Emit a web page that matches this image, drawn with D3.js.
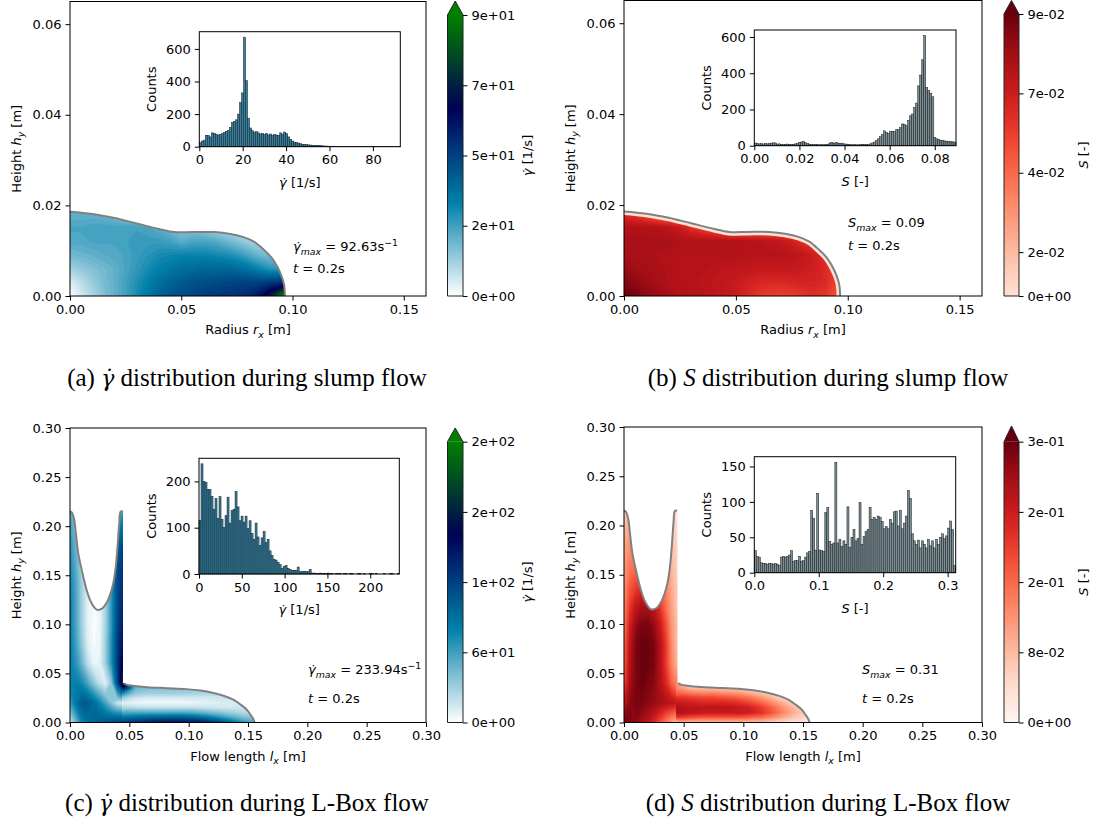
<!DOCTYPE html>
<html>
<head>
<meta charset="utf-8">
<script src="https://cdn.jsdelivr.net/npm/d3@7"></script>
<style>
  body { margin: 0; background: #fff; }
</style>
</head>
<body>
<svg width="1098" height="825"></svg>
<script>
const FONT = "DejaVu Sans";
const SERIF = "Liberation Serif";

// ---------- free surfaces (m) ----------
var slump_surf_x = [0, 0.010, 0.020, 0.030, 0.040, 0.047, 0.055, 0.065, 0.072, 0.078, 0.083, 0.0873, 0.0905, 0.093, 0.0950, 0.0962, 0.0966];
var slump_surf_y = [0.0186, 0.0181, 0.0172, 0.0160, 0.0148, 0.0141, 0.0141, 0.0141, 0.0137, 0.0130, 0.0119, 0.0101, 0.0085, 0.0066, 0.0045, 0.0025, 0.0];

var lbox_col_surf_x = [0.0, 0.0015, 0.0035, 0.0050, 0.0070, 0.0098, 0.0140, 0.0180, 0.0225, 0.0270, 0.0309, 0.0340, 0.0365, 0.0385, 0.0400, 0.0415, 0.0427, 0.0445];
var lbox_col_surf_y = [0.215, 0.214, 0.207, 0.192, 0.172, 0.156, 0.135, 0.122, 0.115, 0.116, 0.122, 0.131, 0.142, 0.158, 0.178, 0.203, 0.215, 0.215];
var lbox_gate_y = 0.040;
var lbox_layer_surf_x = [0.0455, 0.048, 0.053, 0.065, 0.082, 0.098, 0.110, 0.121, 0.130, 0.138, 0.144, 0.149, 0.152, 0.154, 0.1556];
var lbox_layer_surf_y = [0.040, 0.0384, 0.0374, 0.036, 0.035, 0.034, 0.0325, 0.030, 0.027, 0.023, 0.018, 0.013, 0.008, 0.0045, 0.0];

// ---------- fields: rows from y = 0 upwards ----------
// slump grid: x = 0..0.10 step 0.005, y = 0..0.018 step 0.003
var slump_grid_dx = 0.005, slump_grid_dy = 0.003;
var slump_shear = [
  [0, 5, 10, 15, 19, 23, 28, 33, 38, 41, 43, 45, 47, 48, 49, 50, 52, 58, 70, 92, 92],
  [4, 8, 12, 16, 19, 23, 27, 31, 35, 38, 40, 42, 43, 44, 45, 46, 46, 46, 48, 50, 50],
  [11, 13, 15, 17, 19, 22, 25, 28, 31, 33, 35, 36, 37, 37, 37, 36, 34, 30, 26, 25, 25],
  [17, 18, 19, 20, 21, 22, 24, 26, 28, 29, 30, 30, 30, 29, 28, 26, 22, 18, 16, 16, 16],
  [21, 21, 22, 22, 22, 23, 24, 24, 24, 23, 20, 22, 22, 21, 18, 15, 12, 10, 10, 10, 10],
  [22, 22, 23, 23, 23, 23, 23, 22, 20, 17, 14, 14, 13, 11, 9, 8, 8, 8, 8, 8, 8],
  [19, 19, 19, 18, 16, 14, 12, 10, 9, 7, 6, 6, 6, 6, 6, 6, 6, 6, 6, 6, 6]
];
var slump_s = [
  [0.089, 0.086, 0.082, 0.079, 0.077, 0.075, 0.074, 0.073, 0.072, 0.070, 0.067, 0.062, 0.058, 0.056, 0.055, 0.056, 0.058, 0.060, 0.058, 0.050, 0.045],
  [0.085, 0.082, 0.079, 0.077, 0.075, 0.074, 0.073, 0.072, 0.071, 0.070, 0.068, 0.065, 0.063, 0.062, 0.062, 0.063, 0.064, 0.064, 0.062, 0.055, 0.050],
  [0.080, 0.078, 0.077, 0.076, 0.075, 0.074, 0.073, 0.073, 0.072, 0.071, 0.071, 0.070, 0.069, 0.069, 0.069, 0.069, 0.068, 0.066, 0.062, 0.055, 0.050],
  [0.077, 0.076, 0.076, 0.075, 0.075, 0.074, 0.074, 0.074, 0.074, 0.074, 0.074, 0.073, 0.073, 0.073, 0.073, 0.072, 0.070, 0.066, 0.060, 0.055, 0.050],
  [0.076, 0.076, 0.076, 0.076, 0.076, 0.075, 0.075, 0.075, 0.075, 0.075, 0.075, 0.074, 0.073, 0.072, 0.070, 0.066, 0.060, 0.055, 0.050, 0.050, 0.050],
  [0.075, 0.075, 0.075, 0.074, 0.072, 0.068, 0.060, 0.055, 0.050, 0.045, 0.040, 0.040, 0.040, 0.040, 0.040, 0.040, 0.040, 0.040, 0.040, 0.040, 0.040],
  [0.060, 0.058, 0.050, 0.045, 0.040, 0.040, 0.040, 0.040, 0.040, 0.040, 0.040, 0.040, 0.040, 0.040, 0.040, 0.040, 0.040, 0.040, 0.040, 0.040, 0.040]
];

// L-box vertical column grid: x = 0..0.045 step 0.005, y = 0..0.22 step 0.02
var col_grid_dx = 0.005, col_grid_dy = 0.02;
var lbox_col_shear = [
  [10, 45, 75, 90, 95, 100, 105, 110, 115, 120],
  [60, 85, 100, 100, 90, 75, 55, 35, 15, 10],
  [75, 78, 72, 55, 35, 18, 10, 35, 110, 200],
  [78, 65, 45, 20, 6, 8, 30, 68, 120, 170],
  [78, 58, 32, 10, 3, 6, 30, 68, 120, 150],
  [76, 55, 28, 8, 2, 5, 28, 65, 115, 140],
  [76, 55, 28, 8, 3, 5, 28, 65, 112, 135],
  [74, 54, 28, 9, 4, 7, 30, 66, 112, 130],
  [70, 50, 27, 10, 5, 9, 30, 66, 110, 125],
  [65, 46, 25, 12, 7, 12, 30, 62, 100, 115],
  [58, 40, 22, 12, 7, 12, 26, 48, 75, 85],
  [48, 32, 18, 10, 6, 10, 18, 32, 45, 50]
];
var lbox_col_s = [
  [0.31, 0.30, 0.29, 0.27, 0.25, 0.22, 0.18, 0.14, 0.10, 0.08],
  [0.24, 0.29, 0.30, 0.30, 0.29, 0.28, 0.27, 0.26, 0.25, 0.24],
  [0.18, 0.27, 0.30, 0.31, 0.30, 0.29, 0.26, 0.22, 0.16, 0.12],
  [0.16, 0.26, 0.30, 0.31, 0.31, 0.30, 0.26, 0.20, 0.13, 0.08],
  [0.15, 0.25, 0.30, 0.31, 0.31, 0.30, 0.26, 0.20, 0.12, 0.07],
  [0.14, 0.23, 0.28, 0.30, 0.30, 0.28, 0.24, 0.18, 0.11, 0.07],
  [0.13, 0.20, 0.24, 0.26, 0.26, 0.24, 0.20, 0.15, 0.10, 0.06],
  [0.12, 0.17, 0.19, 0.20, 0.20, 0.19, 0.17, 0.13, 0.09, 0.06],
  [0.11, 0.14, 0.15, 0.15, 0.15, 0.15, 0.14, 0.12, 0.08, 0.05],
  [0.10, 0.12, 0.12, 0.12, 0.12, 0.12, 0.12, 0.10, 0.07, 0.05],
  [0.08, 0.09, 0.09, 0.09, 0.09, 0.09, 0.09, 0.08, 0.06, 0.04],
  [0.05, 0.05, 0.05, 0.05, 0.05, 0.05, 0.05, 0.05, 0.04, 0.03]
];

// L-box horizontal layer grid: x = 0.045..0.165 step 0.01, y = 0..0.04 step 0.005
var layer_grid_x0 = 0.045, layer_grid_dx = 0.01, layer_grid_dy = 0.005;
var lbox_layer_shear = [
  [120, 130, 140, 145, 148, 148, 145, 135, 120, 95, 70, 55, 55],
  [85, 90, 95, 98, 100, 100, 95, 85, 70, 55, 42, 35, 35],
  [55, 55, 55, 55, 55, 55, 52, 45, 38, 30, 25, 20, 20],
  [25, 22, 20, 20, 20, 20, 19, 17, 15, 15, 15, 15, 15],
  [10, 6, 5, 5, 5, 5, 6, 8, 10, 12, 12, 12, 12],
  [30, 15, 12, 12, 12, 12, 13, 14, 16, 16, 16, 16, 16],
  [70, 35, 30, 30, 30, 30, 28, 25, 22, 20, 20, 20, 20],
  [140, 45, 38, 36, 36, 36, 34, 30, 26, 24, 24, 24, 24],
  [200, 50, 40, 38, 38, 38, 36, 32, 28, 26, 26, 26, 26]
];
var lbox_layer_s = [
  [0.08, 0.07, 0.07, 0.07, 0.07, 0.07, 0.06, 0.06, 0.05, 0.04, 0.03, 0.02, 0.02],
  [0.20, 0.18, 0.17, 0.17, 0.17, 0.17, 0.16, 0.15, 0.12, 0.09, 0.06, 0.04, 0.04],
  [0.26, 0.25, 0.24, 0.24, 0.24, 0.24, 0.23, 0.21, 0.17, 0.12, 0.08, 0.05, 0.05],
  [0.26, 0.25, 0.25, 0.25, 0.25, 0.24, 0.23, 0.20, 0.16, 0.11, 0.07, 0.05, 0.05],
  [0.24, 0.23, 0.22, 0.22, 0.22, 0.21, 0.19, 0.16, 0.12, 0.08, 0.05, 0.04, 0.04],
  [0.21, 0.20, 0.19, 0.19, 0.18, 0.17, 0.15, 0.12, 0.08, 0.05, 0.04, 0.03, 0.03],
  [0.16, 0.14, 0.13, 0.13, 0.12, 0.11, 0.09, 0.07, 0.05, 0.04, 0.03, 0.03, 0.03],
  [0.12, 0.08, 0.07, 0.07, 0.06, 0.06, 0.05, 0.04, 0.03, 0.03, 0.03, 0.03, 0.03],
  [0.12, 0.05, 0.05, 0.05, 0.04, 0.04, 0.04, 0.03, 0.03, 0.03, 0.03, 0.03, 0.03]
];

// ---------- maxima ----------
var slump_shear_max = 92.63, slump_s_max = 0.0894;
var lbox_shear_max = 233.94, lbox_s_max = 0.3125;
var slump_s_bar_min = 0.01;

// ---------- histogram counts (100 bins from 0 to the maximum) ----------
var hist_slump_shear = [25, 35, 40, 70, 68, 60, 85, 82, 75, 72,
  76, 80, 88, 95, 100, 118, 150, 155, 165, 200,
  270, 330, 672, 405, 175, 115, 98, 88, 92, 85,
  78, 82, 75, 80, 72, 78, 70, 75, 72, 70,
  85, 78, 90, 80, 60, 45, 35, 28, 25, 22,
  18, 15, 14, 12, 11, 10, 9, 8, 7, 7,
  6, 5, 4, 4, 3, 3, 3, 3, 2, 2,
  2, 2, 2, 2, 1, 1, 1, 1, 1, 1,
  1, 1, 1, 1, 1, 1, 1, 1, 1, 1,
  1, 1, 1, 1, 1, 1, 1, 1, 1, 1];
var hist_slump_s = [15, 12, 10, 11, 9, 13, 10, 12, 14, 16,
  15, 9, 10, 8, 7, 8, 9, 8, 7, 8,
  10, 12, 18, 20, 24, 16, 12, 8, 7, 6,
  7, 6, 5, 6, 5, 7, 8, 15, 18, 14,
  17, 15, 12, 14, 10, 9, 8, 6, 5, 6,
  5, 5, 6, 8, 7, 8, 7, 10, 15, 20,
  28, 38, 50, 62, 82, 72, 68, 78, 80, 78,
  88, 90, 100, 120, 118, 110, 140, 165, 175, 210,
  235, 330, 390, 474, 608, 320, 305, 290, 270, 45,
  38, 34, 30, 28, 26, 25, 23, 22, 21, 20];
var hist_lbox_shear = [116, 238, 200, 198, 183, 182, 168, 140, 163, 120,
  167, 118, 100, 126, 166, 110, 137, 140, 178, 145,
  115, 125, 112, 125, 98, 115, 88, 75, 110, 80,
  62, 78, 92, 68, 75, 50, 40, 32, 30, 25,
  20, 12, 16, 18, 12, 10, 8, 8, 8, 15,
  5, 5, 6, 5, 5, 10, 2, 2, 1, 1,
  2, 1, 1, 1, 2, 1, 1, 0, 1, 1,
  1, 0, 1, 1, 0, 1, 1, 0, 0, 1,
  1, 0, 1, 0, 0, 1, 1, 0, 1, 0,
  0, 0, 1, 0, 0, 1, 1, 0, 0, 1];
var hist_lbox_s = [31, 23, 22, 14, 13, 13, 12, 13, 13, 12,
  13, 12, 10, 22, 23, 22, 23, 25, 31, 16,
  17, 17, 23, 16, 17, 22, 28, 30, 88, 77,
  32, 112, 32, 31, 30, 85, 92, 44, 40, 42,
  156, 42, 47, 37, 45, 40, 93, 36, 50, 61,
  45, 48, 99, 40, 51, 58, 61, 92, 75, 78,
  75, 80, 78, 72, 62, 65, 62, 75, 70, 86,
  87, 66, 88, 62, 70, 80, 116, 105, 55, 45,
  40, 46, 35, 45, 40, 35, 47, 38, 45, 35,
  47, 40, 50, 55, 48, 52, 63, 73, 61, 10];

// ---------- ticks ----------
var slump_x_ticks = [0, 0.05, 0.10, 0.15];
var slump_y_ticks = [0, 0.02, 0.04, 0.06];
var lbox_ticks = [0, 0.05, 0.10, 0.15, 0.20, 0.25, 0.30];
var hist_slump_shear_xticks = [0, 20, 40, 60, 80];
var hist_slump_shear_yticks = [0, 200, 400, 600];
var hist_slump_s_xticks = [0, 0.02, 0.04, 0.06, 0.08];
var hist_slump_s_yticks = [0, 200, 400, 600];
var hist_lbox_shear_xticks = [0, 50, 100, 150, 200];
var hist_lbox_shear_yticks = [0, 100, 200];
var hist_lbox_s_xticks = [0, 0.1, 0.2, 0.3];
var hist_lbox_s_yticks = [0, 50, 100, 150];
var cbar_labels_a = ["0e+00", "2e+01", "5e+01", "7e+01", "9e+01"];
var cbar_labels_b = ["0e+00", "2e-02", "4e-02", "7e-02", "9e-02"];
var cbar_labels_c = ["0e+00", "6e+01", "1e+02", "2e+02", "2e+02"];
var cbar_labels_d = ["0e+00", "8e-02", "2e-01", "2e-01", "3e-01"];

var svg = d3.select("svg");
var defs = svg.append("defs");

function ocean_r(t) {
  var x = 1 - Math.max(0, Math.min(1, t));
  var r = Math.max(0, Math.min(1, 3 * x - 2));
  var g = Math.min(1, Math.abs((3 * x - 1) / 2));
  return d3.rgb(r * 255, g * 255, x * 255).formatHex();
}
function reds(t) {
  return d3.interpolateReds(Math.max(0, Math.min(1, t)));
}

// text with italic / sub / superscript pieces
function rich(g, parts, size, family) {
  var t = g.append("text").attr("font-size", size).attr("font-family", family || FONT).attr("fill", "#000");
  var shift = 0;
  parts.forEach(p => {
    var target = p.sub ? size * 0.3 : p.sup ? -size * 0.42 : 0;
    var ts = t.append("tspan").text(p.t).attr("dy", target - shift);
    shift = target;
    if (p.i) ts.attr("font-style", "italic");
    if (p.f) ts.attr("font-family", p.f).attr("font-size", size * 0.88);
    if (p.sub || p.sup) ts.attr("font-size", size * 0.72);
  });
  return t;
}
function label_at(g, parts, cx, cy, size, rotate) {
  var t = rich(g, parts, size).attr("text-anchor", "middle");
  if (rotate) t.attr("transform", "translate(" + (cx + size * 0.35) + "," + cy + ") rotate(-90)");
  else t.attr("transform", "translate(" + cx + "," + (cy + size * 0.35) + ")");
  return t;
}

function style_axis(a) {
  a.attr("font-size", 13).attr("font-family", FONT);
  a.select(".domain").remove();
  a.selectAll("line").attr("stroke", "#000").attr("stroke-width", 1);
  a.selectAll("text").attr("fill", "#000");
}
function draw_axes(g, xs, ys, xticks, yticks, xfmt, yfmt) {
  var xa = g.append("g").attr("transform", "translate(0," + ys.range()[0] + ")")
    .call(d3.axisBottom(xs).tickValues(xticks).tickFormat(xfmt).tickSize(4.5).tickPadding(4));
  var ya = g.append("g").attr("transform", "translate(" + xs.range()[0] + ",0)")
    .call(d3.axisLeft(ys).tickValues(yticks).tickFormat(yfmt).tickSize(4.5).tickPadding(4));
  style_axis(xa);
  style_axis(ya);
}
function draw_frame(g, xs, ys) {
  g.append("rect")
    .attr("x", xs.range()[0]).attr("y", ys.range()[1])
    .attr("width", xs.range()[1] - xs.range()[0]).attr("height", ys.range()[0] - ys.range()[1])
    .attr("fill", "none").attr("stroke", "#000").attr("stroke-width", 1);
}

function smooth(xs, ys, px, py) {
  return d3.line().x(d => xs(d[0])).y(d => ys(d[1])).curve(d3.curveCatmullRom)(d3.zip(px, py));
}
function pt(xs, ys, x, y) {
  return xs(x) + "," + ys(y);
}
function add_clip(id, d) {
  defs.append("clipPath").attr("id", id).append("path").attr("d", d);
}

// filled contours of a grid, mapped to data space through the scales
function draw_field(g, grid, x0, dx, dy, xs, ys, cmap, vmax, clip_id) {
  var ny = grid.length, nx = grid[0].length;
  var flat = [];
  grid.forEach(row => row.forEach(v => flat.push(v)));
  var nlev = 64;
  var levels = d3.range(nlev).map(k => k * vmax / nlev);
  var bands = d3.contours().size([nx, ny]).thresholds(levels)(flat);
  var proj = d3.geoTransform({
    point: function (px, py) {
      this.stream.point(xs(x0 + (px - 0.5) * dx), ys((py - 0.5) * dy));
    }
  });
  var path = d3.geoPath(proj);
  g.append("g").attr("clip-path", "url(#" + clip_id + ")")
    .selectAll("path").data(bands).enter().append("path")
    .attr("d", path)
    .attr("fill", d => cmap((d.value + vmax / nlev / 2) / vmax));
}

function draw_hist(g, box, counts, vmax, xticks, yticks, xfmt, fill, xlabel) {
  var n = counts.length, w = vmax / n;
  var xs = d3.scaleLinear().domain([0, vmax]).range([box.l, box.r]);
  var ys = d3.scaleLinear().domain([0, d3.max(counts) * 1.05]).range([box.b, box.t]);
  g.append("rect").attr("x", box.l).attr("y", box.t)
    .attr("width", box.r - box.l).attr("height", box.b - box.t).attr("fill", "#fff");
  g.append("g").selectAll("rect").data(counts).enter().append("rect")
    .attr("x", (d, i) => xs(i * w)).attr("width", (d, i) => xs((i + 1) * w) - xs(i * w))
    .attr("y", d => ys(d)).attr("height", d => ys(0) - ys(d))
    .attr("fill", fill).attr("stroke", "#1a1a1a").attr("stroke-width", 0.5);
  draw_axes(g, xs, ys, xticks, yticks, xfmt, d3.format("d"));
  draw_frame(g, xs, ys);
  label_at(g, [{ t: "Counts" }], box.l - 47.5, (box.t + box.b) / 2, 13, true);
  label_at(g, xlabel, (box.l + box.r) / 2, box.b + 35.5, 13, false);
}

function draw_colorbar(g, cb, cmap, vmin_bar, vmax, labels, title, id) {
  var cs = d3.scaleLinear().domain([vmin_bar, vmax]).range([cb.b, cb.t]).clamp(true);
  var grad = defs.append("linearGradient").attr("id", id)
    .attr("x1", 0).attr("y1", 1).attr("x2", 0).attr("y2", 0);
  d3.range(0, 65).forEach(k => {
    var v = vmin_bar + (vmax - vmin_bar) * k / 64;
    grad.append("stop").attr("offset", k / 64).attr("stop-color", cmap(v / vmax));
  });
  var mid = (cb.l + cb.r) / 2;
  g.append("rect").attr("x", cb.l).attr("y", cb.t).attr("width", cb.r - cb.l)
    .attr("height", cb.b - cb.t).attr("fill", "url(#" + id + ")");
  g.append("path").attr("d", "M" + cb.l + "," + cb.t + "L" + mid + "," + cb.tip + "L" + cb.r + "," + cb.t + "Z")
    .attr("fill", cmap(1));
  g.append("path")
    .attr("d", "M" + cb.l + "," + cb.b + "L" + cb.l + "," + cb.t + "L" + mid + "," + cb.tip +
      "L" + cb.r + "," + cb.t + "L" + cb.r + "," + cb.b + "Z")
    .attr("fill", "none").attr("stroke", "#222").attr("stroke-width", 1);
  var ticks = d3.range(5).map(k => k * vmax / 4);
  var a = g.append("g").attr("transform", "translate(" + cb.r + ",0)")
    .call(d3.axisRight(cs).tickValues(ticks).tickFormat((d, i) => labels[i]).tickSize(4.5).tickPadding(4));
  style_axis(a);
  label_at(g, title, cb.r + 64, (cb.t + cb.b) / 2, 13, true);
}

// gamma with a combining dot above
var gamma_dot = { t: "γ\u0307", i: 1 };
var gamma_dot_serif = { t: "γ\u0307", i: 1, f: "DejaVu Serif" };
var shear_label = [gamma_dot, { t: " [1/s]" }];
var s_label = [{ t: "S", i: 1 }, { t: " [-]" }];
var height_label = [{ t: "Height " }, { t: "h", i: 1 }, { t: "y", i: 1, sub: 1 }, { t: " [m]" }];
var time_label = [{ t: "t", i: 1 }, { t: " = 0.2s" }];

function draw_panel(p) {
  var g = svg.append("g");
  var xs = d3.scaleLinear().domain(p.xdom).range([p.frame.l, p.frame.r]);
  var ys = d3.scaleLinear().domain(p.ydom).range([p.frame.b, p.frame.t]);

  // fluid body
  if (p.kind === "slump") {
    var surf = smooth(xs, ys, slump_surf_x, slump_surf_y);
    var body = "M" + pt(xs, ys, 0, 0) + "L" + surf.slice(1) + "L" + pt(xs, ys, d3.max(slump_surf_x), 0) + "Z";
    add_clip("clip" + p.id, body);
    draw_field(g, p.grid, 0, slump_grid_dx, slump_grid_dy, xs, ys, p.cmap, p.vmax, "clip" + p.id);
    if (p.edge) {
      g.append("path").attr("d", surf).attr("fill", "none").attr("stroke", p.edge)
        .attr("stroke-width", 7).attr("clip-path", "url(#clip" + p.id + ")");
    }
    g.append("path").attr("d", surf).attr("fill", "none").attr("stroke", "#808080").attr("stroke-width", 2);
  } else {
    var col = smooth(xs, ys, lbox_col_surf_x, lbox_col_surf_y);
    var lay = smooth(xs, ys, lbox_layer_surf_x, lbox_layer_surf_y);
    var wall = d3.max(lbox_col_surf_x);
    var col_body = "M" + pt(xs, ys, 0, 0) + "L" + col.slice(1) + "L" + pt(xs, ys, wall, 0) + "Z";
    var lay_body = "M" + pt(xs, ys, wall - 0.0006, 0) + "L" + pt(xs, ys, wall - 0.0006, lbox_gate_y) +
      "L" + lay.slice(1) + "Z";
    add_clip("clipcol" + p.id, col_body);
    add_clip("cliplay" + p.id, lay_body);
    draw_field(g, p.grid, 0, col_grid_dx, col_grid_dy, xs, ys, p.cmap, p.vmax, "clipcol" + p.id);
    draw_field(g, p.grid2, layer_grid_x0, layer_grid_dx, layer_grid_dy, xs, ys, p.cmap, p.vmax, "cliplay" + p.id);
    g.append("path").attr("d", col).attr("fill", "none").attr("stroke", "#808080").attr("stroke-width", 2);
    g.append("path").attr("d", lay).attr("fill", "none").attr("stroke", "#808080").attr("stroke-width", 2);
  }

  draw_axes(g, xs, ys, p.xticks, p.yticks, d3.format(".2f"), d3.format(".2f"));
  draw_frame(g, xs, ys);
  label_at(g, p.xlabel, (p.frame.l + p.frame.r) / 2, p.frame.b + 33.5, 13, false);
  label_at(g, height_label, p.frame.l - 54, (p.frame.t + p.frame.b) / 2, 13, true);

  rich(g, p.ann, 13).attr("x", p.ann_pos.x).attr("y", p.ann_pos.y1);
  rich(g, time_label, 13).attr("x", p.ann_pos.x).attr("y", p.ann_pos.y2);

  draw_hist(g, p.inset, p.counts, p.vmax, p.hxticks, p.hyticks, p.hxfmt, p.hfill, p.hlabel);
  draw_colorbar(g, p.cb, p.cmap, p.cb_min, p.vmax, p.cb_labels, p.cb_title, "grad" + p.id);

  rich(g, p.caption, 25, SERIF).attr("text-anchor", "middle")
    .attr("x", p.cap.x).attr("y", p.cap.y);
}

var slump_xlabel = [{ t: "Radius " }, { t: "r", i: 1 }, { t: "x", i: 1, sub: 1 }, { t: " [m]" }];
var lbox_xlabel = [{ t: "Flow length " }, { t: "l", i: 1 }, { t: "x", i: 1, sub: 1 }, { t: " [m]" }];

draw_panel({
  id: "a", kind: "slump", grid: slump_shear, cmap: ocean_r, vmax: slump_shear_max,
  xdom: [0, 0.16], ydom: [0, 0.065], xticks: slump_x_ticks, yticks: slump_y_ticks,
  frame: { l: 70, r: 426, t: 1.5, b: 296 }, xlabel: slump_xlabel,
  ann: [gamma_dot, { t: "max", i: 1, sub: 1 }, { t: " = 92.63" }, { t: "s" }, { t: "−1", sup: 1 }],
  ann_pos: { x: 293, y1: 251, y2: 273 },
  inset: { l: 199.3, r: 400.3, t: 31.7, b: 146.7 }, counts: hist_slump_shear,
  hxticks: hist_slump_shear_xticks, hyticks: hist_slump_shear_yticks, hxfmt: d3.format("d"),
  hfill: "#2f7fa3", hlabel: shear_label,
  cb: { l: 447.5, r: 463, t: 15, b: 296, tip: 1 }, cb_min: 0, cb_labels: cbar_labels_a, cb_title: shear_label,
  caption: [{ t: "(a) " }, gamma_dot_serif, { t: " distribution during slump flow" }], cap: { x: 247, y: 386 }
});

draw_panel({
  id: "b", kind: "slump", grid: slump_s, cmap: reds, vmax: slump_s_max, edge: "#fde3d6",
  xdom: [0, 0.16], ydom: [0, 0.065], xticks: slump_x_ticks, yticks: slump_y_ticks,
  frame: { l: 624, r: 982, t: 0.5, b: 296 }, xlabel: slump_xlabel,
  ann: [{ t: "S", i: 1 }, { t: "max", i: 1, sub: 1 }, { t: " = 0.09" }],
  ann_pos: { x: 848, y1: 227, y2: 250 },
  inset: { l: 754.3, r: 956, t: 30, b: 145.7 }, counts: hist_slump_s,
  hxticks: hist_slump_s_xticks, hyticks: hist_slump_s_yticks, hxfmt: d3.format(".2f"),
  hfill: "#7a8e96", hlabel: s_label,
  cb: { l: 1004, r: 1019, t: 14, b: 296, tip: 0.5 }, cb_min: slump_s_bar_min, cb_labels: cbar_labels_b, cb_title: s_label,
  caption: [{ t: "(b) " }, { t: "S", i: 1 }, { t: " distribution during slump flow" }], cap: { x: 828, y: 386 }
});

draw_panel({
  id: "c", kind: "lbox", grid: lbox_col_shear, grid2: lbox_layer_shear, cmap: ocean_r, vmax: lbox_shear_max,
  xdom: [0, 0.3], ydom: [0, 0.3], xticks: lbox_ticks, yticks: lbox_ticks,
  frame: { l: 70, r: 426, t: 428, b: 722.5 }, xlabel: lbox_xlabel,
  ann: [gamma_dot, { t: "max", i: 1, sub: 1 }, { t: " = 233.94" }, { t: "s" }, { t: "−1", sup: 1 }],
  ann_pos: { x: 308, y1: 674, y2: 703 },
  inset: { l: 199, r: 399.3, t: 458.3, b: 574 }, counts: hist_lbox_shear,
  hxticks: hist_lbox_shear_xticks, hyticks: hist_lbox_shear_yticks, hxfmt: d3.format("d"),
  hfill: "#2f7fa3", hlabel: shear_label,
  cb: { l: 447.5, r: 463, t: 441.7, b: 722.5, tip: 428 }, cb_min: 0, cb_labels: cbar_labels_c, cb_title: shear_label,
  caption: [{ t: "(c) " }, gamma_dot_serif, { t: " distribution during L-Box flow" }], cap: { x: 247, y: 811 }
});

draw_panel({
  id: "d", kind: "lbox", grid: lbox_col_s, grid2: lbox_layer_s, cmap: reds, vmax: lbox_s_max,
  xdom: [0, 0.3], ydom: [0, 0.3], xticks: lbox_ticks, yticks: lbox_ticks,
  frame: { l: 624, r: 982, t: 427, b: 722.5 }, xlabel: lbox_xlabel,
  ann: [{ t: "S", i: 1 }, { t: "max", i: 1, sub: 1 }, { t: " = 0.31" }],
  ann_pos: { x: 862, y1: 674, y2: 703 },
  inset: { l: 754.3, r: 955.7, t: 456.7, b: 572.7 }, counts: hist_lbox_s,
  hxticks: hist_lbox_s_xticks, hyticks: hist_lbox_s_yticks, hxfmt: d3.format(".1f"),
  hfill: "#7a8e96", hlabel: s_label,
  cb: { l: 1004, r: 1019, t: 441.7, b: 722.5, tip: 426 }, cb_min: 0, cb_labels: cbar_labels_d, cb_title: s_label,
  caption: [{ t: "(d) " }, { t: "S", i: 1 }, { t: " distribution during L-Box flow" }], cap: { x: 828, y: 811 }
});
</script>
</body>
</html>
